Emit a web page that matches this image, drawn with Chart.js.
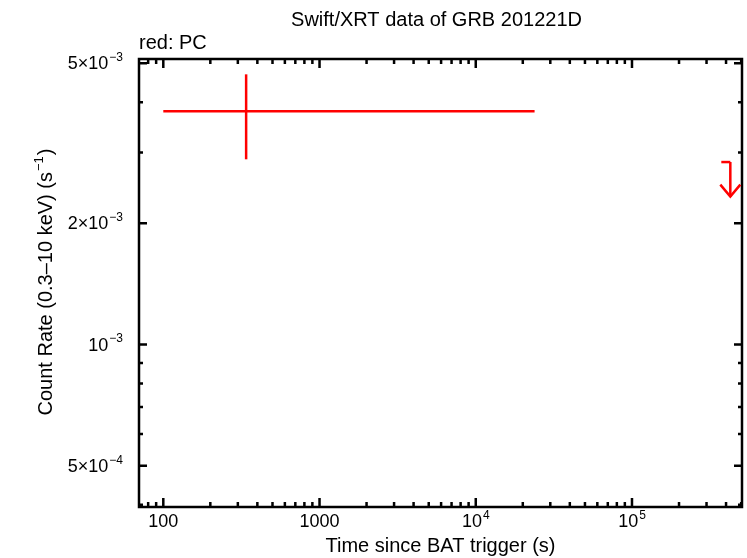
<!DOCTYPE html>
<html lang="en">
<head>
    <meta charset="UTF-8">
    <title>Swift/XRT data of GRB 201221D</title>
    <script src="https://cdn.jsdelivr.net/npm/chart.js"></script>
    <style>
        html, body { margin: 0; padding: 0; background: #fff; }
        canvas { display: block; }
    </style>
</head>
<body>
    <canvas id="lc" width="747" height="558"></canvas>

    <script>
        // PC mode detection (time range + rate with errors)
        const tStart = [100];
        const tStop = [23800];
        const tMid = [339];
        const rate = [3.80e-3];
        const rateLo = [2.885e-3];
        const rateHi = [4.69e-3];

        // PC mode upper limit
        const ulStart = [3.73e5];
        const ulTime = [4.26e5];
        const ulRate = [2.84e-3];
        const ulArrowTo = [2.33e-3];

        // axis ranges and ticks
        const xMin = 69.9, xMax = 5.06e5;
        const yMin = 3.95e-4, yMax = 5.12e-3;
        const xMajor = [100, 1000, 1e4, 1e5];
        const xLabels = [['100', ''], ['1000', ''], ['10', '4'], ['10', '5']];
        const xMinor = [80, 90, 200, 300, 400, 500, 600, 700, 800, 900,
                        2000, 3000, 4000, 5000, 6000, 7000, 8000, 9000,
                        2e4, 3e4, 4e4, 5e4, 6e4, 7e4, 8e4, 9e4, 2e5, 3e5, 4e5, 5e5];
        const yMajor = [5e-3, 2e-3, 1e-3, 5e-4];
        const yLabels = [['5\u00d710', '\u22123'], ['2\u00d710', '\u22123'], ['10', '\u22123'], ['5\u00d710', '\u22124']];
        const yMinor = [4e-3, 3e-3, 9e-4, 8e-4, 7e-4, 6e-4, 4e-4];

        const RED = '#ff0000';
        const FONT = 'Liberation Sans, Arial, Helvetica, sans-serif';

        function seg(x0, y0, x1, y1) {
            return {
                data: [{ x: x0, y: y0 }, { x: x1, y: y1 }],
                borderColor: RED, borderWidth: 2.5, pointRadius: 0, showLine: true, tension: 0
            };
        }

        const datasets = [];
        for (let i = 0; i < rate.length; i++) {
            datasets.push(seg(tStart[i], rate[i], tStop[i], rate[i]));
            datasets.push(seg(tMid[i], rateLo[i], tMid[i], rateHi[i]));
        }
        for (let i = 0; i < ulRate.length; i++) {
            datasets.push(seg(ulStart[i], ulRate[i], ulTime[i], ulRate[i]));
            datasets.push(seg(ulTime[i], ulRate[i], ulTime[i], ulArrowTo[i]));
        }

        // text with a raised exponent, anchored by align
        function supText(ctx, main, sup, x, y, align, size) {
            const ss = Math.round(size * 0.66);
            ctx.font = size + 'px ' + FONT;
            const w1 = ctx.measureText(main).width;
            ctx.font = ss + 'px ' + FONT;
            const w2 = sup ? ctx.measureText(sup).width + 1 : 0;
            const w = w1 + w2;
            let x0 = x;
            if (align === 'center') x0 = x - w / 2;
            if (align === 'right') x0 = x - w;
            ctx.textAlign = 'left';
            ctx.textBaseline = 'middle';
            ctx.font = size + 'px ' + FONT;
            ctx.fillText(main, x0, y);
            if (sup) {
                ctx.font = ss + 'px ' + FONT;
                ctx.fillText(sup, x0 + w1 + 1, y - size * 0.36);
            }
        }

        const framePlugin = {
            id: 'frame',
            afterDraw(chart) {
                const ctx = chart.ctx;
                const a = chart.chartArea;
                const xs = chart.scales.x, ys = chart.scales.y;
                ctx.save();
                ctx.strokeStyle = '#000';
                ctx.lineWidth = 2.5;
                ctx.strokeRect(a.left, a.top, a.right - a.left, a.bottom - a.top);

                // inward ticks on all four sides
                ctx.lineWidth = 2.5;
                ctx.beginPath();
                const xt = (v, len) => {
                    const p = xs.getPixelForValue(v);
                    ctx.moveTo(p, a.bottom); ctx.lineTo(p, a.bottom - len);
                    ctx.moveTo(p, a.top); ctx.lineTo(p, a.top + len);
                };
                const yt = (v, len) => {
                    const p = ys.getPixelForValue(v);
                    ctx.moveTo(a.left, p); ctx.lineTo(a.left + len, p);
                    ctx.moveTo(a.right, p); ctx.lineTo(a.right - len, p);
                };
                xMajor.forEach(v => xt(v, 9));
                xMinor.forEach(v => xt(v, 5));
                yMajor.forEach(v => yt(v, 8));
                yMinor.forEach(v => yt(v, 4));
                ctx.stroke();

                // tick labels
                ctx.fillStyle = '#000';
                xMajor.forEach((v, i) => {
                    supText(ctx, xLabels[i][0], xLabels[i][1], xs.getPixelForValue(v), 522, 'center', 18);
                });
                yMajor.forEach((v, i) => {
                    supText(ctx, yLabels[i][0], yLabels[i][1], 123, ys.getPixelForValue(v) + 1, 'right', 18);
                });

                // titles
                ctx.textAlign = 'center';
                ctx.textBaseline = 'middle';
                ctx.font = '20px ' + FONT;
                ctx.fillText('Swift/XRT data of GRB 201221D', (a.left + a.right) / 2 - 4, 20);
                ctx.fillText('Time since BAT trigger (s)', (a.left + a.right) / 2, 546);
                ctx.textAlign = 'left';
                ctx.fillText('red: PC', a.left, 43);

                ctx.save();
                ctx.translate(46, 282);
                ctx.rotate(-Math.PI / 2);
                ctx.font = '20px ' + FONT;
                const t1 = 'Count Rate (0.3\u201310 keV) (s';
                const w1 = ctx.measureText(t1).width;
                ctx.font = '13px ' + FONT;
                const w2 = ctx.measureText('\u22121').width;
                ctx.font = '20px ' + FONT;
                const w3 = ctx.measureText(')').width;
                const x0 = -(w1 + w2 + w3 + 2) / 2;
                ctx.textAlign = 'left';
                ctx.fillText(t1, x0, 0);
                ctx.font = '13px ' + FONT;
                ctx.fillText('\u22121', x0 + w1 + 1, -7);
                ctx.font = '20px ' + FONT;
                ctx.fillText(')', x0 + w1 + w2 + 2, 0);
                ctx.restore();

                // upper limit arrowheads
                ctx.strokeStyle = RED;
                ctx.lineWidth = 2.5;
                ctx.beginPath();
                for (let i = 0; i < ulTime.length; i++) {
                    const px = xs.getPixelForValue(ulTime[i]);
                    const py = ys.getPixelForValue(ulArrowTo[i]);
                    ctx.moveTo(px - 10, py - 12);
                    ctx.lineTo(px, py);
                    ctx.lineTo(px + 10, py - 12);
                }
                ctx.stroke();
                ctx.restore();
            }
        };

        new Chart(document.getElementById('lc').getContext('2d'), {
            type: 'scatter',
            data: { datasets: datasets },
            options: {
                responsive: false,
                animation: false,
                layout: { padding: { top: 59, right: 5, left: 0, bottom: 0 } },
                plugins: { legend: { display: false }, title: { display: false }, tooltip: { enabled: false } },
                scales: {
                    x: {
                        type: 'logarithmic', min: xMin, max: xMax,
                        grid: { display: false }, border: { display: false },
                        ticks: { display: false },
                        afterFit(s) { s.height = 51; }
                    },
                    y: {
                        type: 'logarithmic', min: yMin, max: yMax,
                        grid: { display: false }, border: { display: false },
                        ticks: { display: false },
                        afterFit(s) { s.width = 139; }
                    }
                }
            },
            plugins: [framePlugin]
        });
    </script>
</body>
</html>
